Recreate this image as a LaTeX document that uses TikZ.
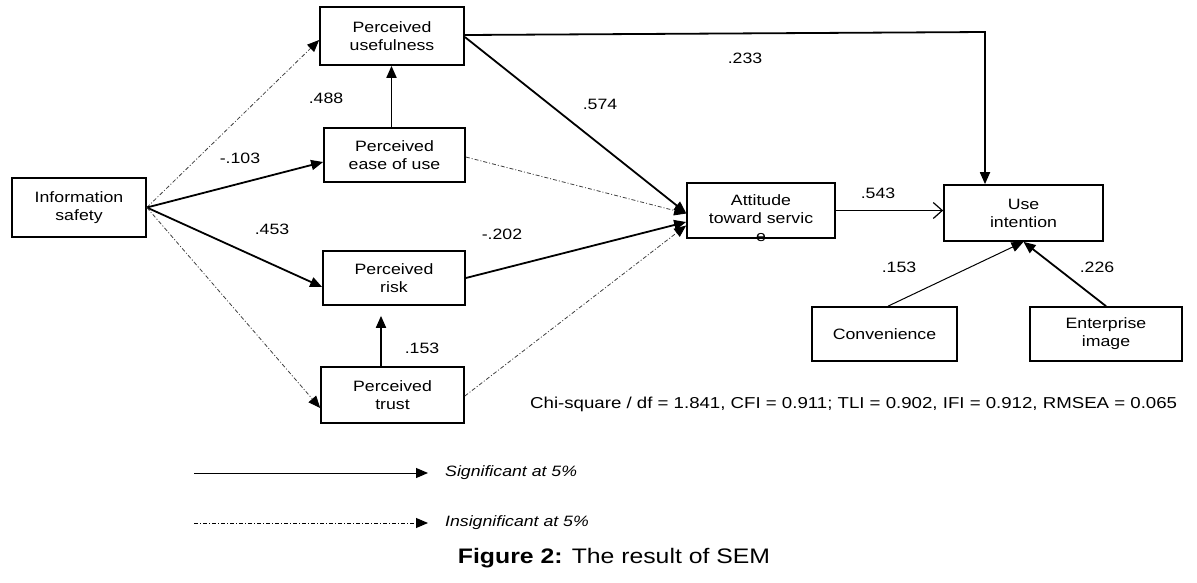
\documentclass[tikz,border=0pt]{standalone}
\usepackage{fontspec}
\setmainfont{Liberation Sans}[FakeStretch=1.18]
\usetikzlibrary{arrows.meta}
\tikzset{
  box/.style={draw, line width=1.7pt, inner sep=0pt, align=center,
    font=\fontsize{15}{18}\selectfont},
  lab/.style={font=\fontsize{15}{18}\selectfont, inner sep=0pt},
  sig/.style={line width=1.8pt, -{Triangle[length=12pt,width=10pt]}},
  thinsig/.style={line width=1pt, -{Triangle[length=12pt,width=10pt]}},
  insig/.style={line width=0.8pt, black!75, dash pattern=on 4pt off 2pt on 1pt off 2pt,
    -{Triangle[length=12pt,width=10pt,fill=black,color=black]}},
}
\begin{document}
\begin{tikzpicture}[x=1pt,y=-1pt]
\useasboundingbox (0,0) rectangle (1197,582);
% boxes
\node[box, minimum width=134pt, minimum height=59pt] (IS) at (79,207.5) {Information\\safety};
\node[box, minimum width=144pt, minimum height=58pt] (PU) at (392,36) {Perceived\\usefulness};
\node[box, minimum width=141pt, minimum height=54pt] (PEOU) at (394.5,155) {Perceived\\ease of use};
\node[box, minimum width=142pt, minimum height=54pt] (PR) at (394,278) {Perceived\\risk};
\node[box, minimum width=143pt, minimum height=56pt] (PT) at (392.5,395) {Perceived\\trust};
\node[box, minimum width=148pt, minimum height=55pt] (AT) at (761,210.5) {};
\node[lab, align=center] (ATt) at (761,218) {Attitude\\toward servic\\e};
\node[box, minimum width=159pt, minimum height=56pt] (UI) at (1023.5,213) {Use\\intention};
\node[box, minimum width=145pt, minimum height=54pt] (CV) at (884.5,334) {Convenience};
\node[box, minimum width=152pt, minimum height=54pt] (EI) at (1106,334) {Enterprise\\image};
% connectors from information safety
\draw[insig] (IS.east) -- ([yshift=-4pt]PU.west);
\draw[sig] (IS.east) -- ([yshift=-7pt]PEOU.west);
\draw[sig] (IS.east) -- ([yshift=-9pt]PR.west);
\draw[insig] (IS.east) -- ([yshift=-13pt]PT.west);
% into attitude
\draw[sig] ([yshift=-1pt]PU.east) -- ([yshift=-2.5pt]AT.west);
\draw[insig] ([yshift=-2pt]PEOU.east) -- ([yshift=-3pt]AT.west);
\draw[sig] (PR.east) -- ([yshift=-11.5pt]AT.west);
\draw[insig] ([yshift=-1pt]PT.east) -- ([yshift=-15pt]AT.west);
% vertical arrows
\draw[sig] ([xshift=-3pt]PEOU.north) -- ([xshift=-3pt]PEOU.north |- PU.south);
\draw[sig, shorten >=10pt] ([xshift=-11.5pt]PT.north) -- ([xshift=-11.5pt]PT.north |- PR.south);
% PU to use intention
\coordinate (k) at (985,32);
\draw[sig] ([yshift=1pt]PU.east) -- (k) -- (k |- UI.north);
% attitude to use intention
\draw[line width=1.8pt, -{Straight Barb[length=9pt,width=16pt,line width=1.2pt]}] (AT.east) -- (AT.east -| UI.west);
\draw[thinsig] ([xshift=3.5pt]CV.north) -- (UI.south);
\draw[sig] (EI.north) -- (UI.south);
% path labels
\node[lab] (l1) at (240,158) {-.103};
\node[lab] (l2) at (326,98) {.488};
\node[lab] (l3) at (600,104) {.574};
\node[lab] (l4) at (272,229) {.453};
\node[lab] (l5) at (502,234) {-.202};
\node[lab] (l6) at (745,58) {.233};
\node[lab] (l7) at (878,193) {.543};
\node[lab] (l8) at (899,267) {.153};
\node[lab] (l9) at (1097,267) {.226};
\node[lab] (l10) at (422,348) {.153};
% fit statistics
\node[lab, anchor=west, font=\fontsize{15.8}{18}\selectfont] (fit) at (530,404) {Chi-square / df = 1.841, CFI = 0.911; TLI = 0.902, IFI = 0.912, RMSEA = 0.065};
% legend
\coordinate (s0) at (194,473);
\coordinate (i0) at (194,523);
\node[lab, anchor=west, font=\fontsize{15}{18}\itshape] (sigt) at (445,473) {Significant at 5\%};
\node[lab, anchor=west, font=\fontsize{15}{18}\itshape] (insigt) at (445,523) {Insignificant at 5\%};
\draw[line width=1pt, -{Triangle[length=12pt,width=10pt]}, shorten >=17pt] (s0) -- (sigt.west);
\draw[line width=0.9pt, dash pattern=on 4pt off 2pt on 1pt off 2pt, -{Triangle[length=12pt,width=10pt,sep=0pt]}, shorten >=17pt] (i0) -- (insigt.west);
% caption
\node[inner sep=0pt, font=\fontsize{21}{24}\selectfont] (cap) at (614,558) {\textbf{Figure 2:} The result of SEM};
\end{tikzpicture}
\end{document}
